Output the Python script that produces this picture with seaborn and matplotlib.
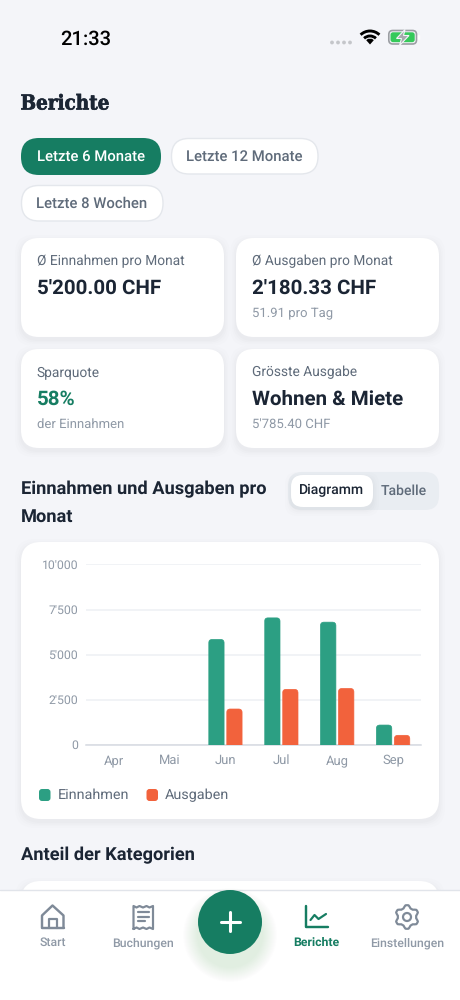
import numpy as np
import pandas as pd
import matplotlib
matplotlib.use("Agg")
import matplotlib.pyplot as plt
import matplotlib.patheffects as pe
import seaborn as sns
from matplotlib.patches import FancyBboxPatch, Circle, Rectangle, Arc, Polygon

months = ["Apr", "Mai", "Jun", "Jul", "Aug", "Sep"]
income = [0, 0, 5840, 7040, 6800, 1090]
expenses = [0, 0, 1980, 3070, 3120, 520]
y_ticks = [0, 2500, 5000, 7500, 10000]
y_labels = ["0", "2'500", "5'000", "7'500", "10'000"]
series_names = ["Einnahmen", "Ausgaben"]

GREEN, ORANGE = "#2c9f83", "#f2623c"
DARK_GREEN = "#167d62"
BG, INK, MUTED, LIGHT = "#f4f5f9", "#1b2534", "#5f6b7a", "#8f99a6"

sns.set_theme(style="white")
plt.rcParams["font.family"] = ["Roboto", "DejaVu Sans"]
plt.rcParams["text.hinting"] = "no_hinting"
plt.rcParams["text.hinting_factor"] = 8
W, H = 460, 1000
fig = plt.figure(figsize=(4.6001, 10.0001), dpi=100, facecolor=BG)

ui = fig.add_axes([0, 0, 1, 1], zorder=0)
ui.set_xlim(0, W)
ui.set_ylim(H, 0)
ui.axis("off")
px = 0.72


def rbox(x0, y0, x1, y1, r, fc, ec="none", lw=0, z=1, shadow=False):
    if shadow:
        for grow, a in ((6, .006), (4, .008), (2.5, .010), (1, .012)):
            ui.add_patch(FancyBboxPatch((x0 + r - grow, y0 + r - grow + 3), x1 - x0 - 2 * r + 2 * grow,
                                        y1 - y0 - 2 * r + 2 * grow, boxstyle=f"round,pad={r},rounding_size={r}",
                                        fc="#1b2534", ec="none", alpha=a, zorder=z))
    p = FancyBboxPatch((x0 + r, y0 + r), x1 - x0 - 2 * r, y1 - y0 - 2 * r,
                       boxstyle=f"round,pad={r},rounding_size={r}", fc=fc, ec=ec, lw=lw, zorder=z)
    ui.add_patch(p)
    return p


def txt(x, y, s, size, color=INK, weight="normal", ha="left", z=5, **kw):
    return ui.text(x, y, s, fontsize=size * px, color=color, fontweight=weight, ha=ha, va="baseline", zorder=z, **kw)


# status bar
txt(60, 44.3, "21:33", 20.2, "#000000", "medium")
for cx in (332, 338, 344, 350):
    ui.add_patch(Circle((cx, 42.5), 1.9, fc="#c4c6ca", ec="none", zorder=3))
for r in (13.5, 8.5):
    ui.add_patch(Arc((370, 44.5), 2 * r, 2 * r, theta1=226, theta2=314, ec="#000000", lw=2.9 * px, zorder=3))
ui.add_patch(Polygon([(370, 44.5), (366.2, 40.2), (368, 38.8), (372, 38.8), (373.8, 40.2)], fc="#000000", ec="none", zorder=3))
rbox(388.8, 30.5, 416.5, 44, 4, "none", "#9b9ea3", 1.2, z=3)
rbox(390.5, 32.3, 414.7, 42.2, 2.5, "#35c95a", z=3)
ui.add_patch(Rectangle((417.5, 35), 1.4, 4.5, fc="#9b9ea3", zorder=3))
ui.add_patch(Polygon([(405, 29.5), (396.5, 38.5), (401.5, 38.5), (399.5, 45.5), (409, 35.5), (403.5, 35.5)],
                     fc="#a6a9ad", ec=BG, lw=.8, zorder=4))

# title and period pills
title = txt(20.5, 109.5, "Berichte", 20.5, INK, "bold", family="DejaVu Serif", stretch="condensed")
title.set_path_effects([pe.withStroke(linewidth=0.45, foreground=INK)])
rbox(21, 138, 161, 175, 18, DARK_GREEN)
txt(91, 160.5, "Letzte 6 Monate", 14.85, "#ffffff", "medium", "center")
rbox(171.5, 138.5, 318, 174, 17.5, "#ffffff", "#e4e7ec", 1)
txt(244.5, 160.5, "Letzte 12 Monate", 14.85, MUTED, "medium", "center")
rbox(21.5, 185.5, 163, 221, 17.5, "#ffffff", "#e4e7ec", 1)
txt(92, 207.5, "Letzte 8 Wochen", 14.85, MUTED, "medium", "center")

# KPI cards
for x0, x1, y0, y1 in ((21, 224, 238, 337), (236, 439, 238, 337), (21, 224, 349, 448), (236, 439, 349, 448)):
    rbox(x0, y0, x1, y1, 18, "#ffffff", shadow=True)
txt(37, 265.5, "Ø Einnahmen pro Monat", 13.7, MUTED)
txt(37, 294, "5'200.00 CHF", 20.5, INK, "bold")
txt(252, 265.5, "Ø Ausgaben pro Monat", 13.7, MUTED)
txt(252, 294, "2'180.33 CHF", 20.5, INK, "bold")
txt(252, 317, "51.91 pro Tag", 13.15, LIGHT)
txt(36.5, 376.5, "Sparquote", 13.7, MUTED)
txt(37, 405, "58%", 20.5, DARK_GREEN, "bold")
txt(36.5, 428, "der Einnahmen", 13.15, LIGHT)
txt(252, 376.5, "Grösste Ausgabe", 13.7, MUTED)
txt(252, 405, "Wohnen & Miete", 20.5, INK, "bold")
txt(252, 428, "5'785.40 CHF", 13.15, LIGHT)

# section heading and toggle
txt(21, 494, "Einnahmen und Ausgaben pro", 18.25, INK, "bold")
txt(21, 521.5, "Monat", 18.25, INK, "bold")
rbox(288, 472, 439, 510, 14, "#e9edf2")
rbox(291, 475, 373, 507, 12, "#ffffff", shadow=True, z=2)
txt(331.5, 494.5, "Diagramm", 14, INK, "medium", "center")
txt(404, 494.5, "Tabelle", 14, MUTED, "medium", "center")

# chart card and second card
rbox(21, 542, 439, 819, 20, "#ffffff", shadow=True)
txt(21, 860.5, "Anteil der Kategorien", 18.25, INK, "bold")
rbox(21, 881, 439, 960, 20, "#ffffff", shadow=True)

# chart
ax_l, ax_r, ax_top, ax_bot = 85.7, 421, 564.5, 744.7
ax = fig.add_axes([ax_l / W, 1 - ax_bot / H, (ax_r - ax_l) / W, (ax_bot - ax_top) / H], zorder=1)
ax.patch.set_alpha(0)
df = pd.DataFrame({"Monat": months * 2,
                   "Wert": income + expenses,
                   "Serie": [series_names[0]] * len(months) + [series_names[1]] * len(months)})
sns.barplot(df, x="Monat", y="Wert", hue="Serie", order=months, hue_order=series_names,
            palette=[GREEN, ORANGE], width=0.644, gap=0.145, legend=False, ax=ax, zorder=3,
            saturation=1, linewidth=0, edgecolor="none")
ax.set_xlim(-0.5, 5.5)
ax.set_ylim(0, 10000)
ax.set_xlabel("")
ax.set_ylabel("")
ax.set_yticks(y_ticks, y_labels)
ax.grid(axis="y", color="#eef0f4", lw=1.1)
ax.grid(axis="x", visible=False)
ax.set_axisbelow(True)
for s in ("top", "right", "left"):
    ax.spines[s].set_visible(False)
ax.spines["bottom"].set_color("#d6dae1")
ax.spines["bottom"].set_linewidth(1.1)
ax.spines["bottom"].set_zorder(2)
ax.tick_params(axis="both", length=0, labelcolor=LIGHT)
ax.tick_params(axis="y", pad=5.5, labelsize=12.3 * px)
ax.tick_params(axis="x", pad=7, labelsize=13 * px)

# rounded bar tops: clip each seaborn bar with a rounded polygon on its own geometry
fig.canvas.draw()
for b in list(ax.patches):
    if b.get_height() <= 0:
        continue
    x0, yd = ax.transData.transform((b.get_x(), b.get_height()))
    x1 = ax.transData.transform((b.get_x() + b.get_width(), 0))[0]
    ytop = H - yd * H / (fig.get_figheight() * fig.dpi)
    r = 3.5
    shape = FancyBboxPatch((x0 + r, ytop + r), x1 - x0 - 2 * r, ax_bot - ytop + 5,
                           boxstyle=f"round,pad={r},rounding_size={r}")
    poly = shape.get_path().to_polygons(closed_only=False)[0]
    b.set_clip_path(Polygon(poly, closed=True, transform=ui.transData))
    # Agg does not antialias clip paths: a fine edge of the same colour softens the corners
    ax.add_patch(Polygon(poly, closed=True, fc="none", ec=b.get_facecolor(), lw=0.5, zorder=3,
                         transform=ui.transData))

# legend
rbox(39, 789, 50.5, 801, 3, GREEN)
txt(57.5, 799, series_names[0], 14.4, MUTED)
rbox(146.5, 789, 158, 801, 3, ORANGE)
txt(165, 799, series_names[1], 14.4, MUTED)

# bottom navigation
ui.add_patch(Rectangle((0, 890), W, 110, fc="#ffffff", ec="none", zorder=6))
ui.plot([0, W], [889.7, 889.7], color="#e1e4ea", lw=1, zorder=7)
for grow in np.arange(15, 0, -1.0):
    ui.add_patch(Circle((230, 935), 32 + grow, fc=DARK_GREEN, ec="none", alpha=.009, zorder=7))
ui.add_patch(Circle((230, 922), 32, fc=DARK_GREEN, ec="none", zorder=8))
ui.plot([220.5, 239.5], [922, 922], color="#ffffff", lw=2.2, solid_capstyle="round", zorder=9)
ui.plot([230, 230], [912.5, 931.5], color="#ffffff", lw=2.2, solid_capstyle="round", zorder=9)
for xc, s, col, w in ((52.5, "Start", LIGHT, "medium"), (143, "Buchungen", LIGHT, "medium"),
                      (316.5, "Berichte", DARK_GREEN, "bold"), (407, "Einstellungen", LIGHT, "medium")):
    txt(xc, 946, s, 12.2, col, w, "center", z=9)

icon = "#7f8a98"
ilw = 2.2 * px
# home
ui.plot([42, 42, 52.5, 63.5, 63.5], [927.5, 915.5, 905.5, 915.5, 927.5], color=icon, lw=ilw * 1.1, zorder=9,
        solid_joinstyle="round")
ui.plot([42, 63.5], [928, 928], color=icon, lw=ilw * 1.1, zorder=9)
ui.plot([48.5, 48.5, 57, 57], [928, 919.5, 919.5, 928], color=icon, lw=ilw, zorder=9)
# receipt
xs = [133.5, 133.5, 136.5, 139.5, 143, 146.5, 149.5, 153, 153, 149.5, 146.5, 143, 139.5, 136.5, 133.5]
ys = [929, 906, 907.5, 906, 907.5, 906, 907.5, 906, 929, 927.5, 929, 927.5, 929, 927.5, 929]
ui.plot(xs, ys, color=icon, lw=ilw, zorder=9, solid_joinstyle="round")
for x1, yy in ((149, 912.5), (149, 917), (145, 921.5)):
    ui.plot([138, x1], [yy, yy], color=icon, lw=ilw, zorder=9, solid_capstyle="round")
# line-chart icon
ui.plot([306, 306, 327.5], [906.5, 927.5, 927.5], color=DARK_GREEN, lw=ilw * 1.1, zorder=9, solid_capstyle="round")
ui.plot([310.5, 314.5, 318.5, 326], [920, 915, 919, 914], color=DARK_GREEN, lw=ilw, zorder=9,
        solid_capstyle="round", solid_joinstyle="round")
# gear
angles = np.deg2rad(np.arange(0, 360, 7.5) + 90)
radii = np.array([11.8 if (k % 8) in (7, 0, 1) else 9.2 if (k % 8) in (3, 4, 5) else 10.4 for k in range(48)])
ui.add_patch(Polygon(np.c_[407 + radii * np.cos(angles), 917 + radii * np.sin(angles)],
                     closed=True, fc="none", ec=icon, lw=ilw, zorder=9, joinstyle="round"))
ui.add_patch(Circle((407, 917), 4, fc="none", ec=icon, lw=ilw, zorder=9))

fig.savefig("out.png", dpi=100, facecolor=BG)
